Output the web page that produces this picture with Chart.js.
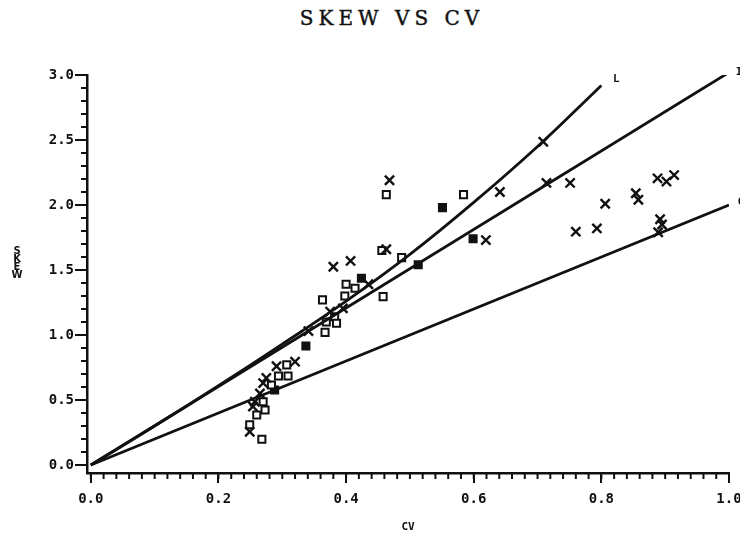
<!DOCTYPE html>
<html>
<head>
<meta charset="utf-8">
<script src="https://cdn.jsdelivr.net/npm/chart.js@4"></script>
<style>
    body { margin: 0; background: #fff; overflow: hidden; }
    #wrap { position: relative; width: 740px; height: 538px; overflow: hidden; }
    #title {
        position: absolute; left: 292px; top: 6px; width: 200px; text-align: center;
        font-family: "DejaVu Serif", serif; font-size: 20px; letter-spacing: 5px; color: #111;
        -webkit-text-stroke: 0.4px #111;
    }
    #ytitle {
        position: absolute; left: 11px; top: 247px; width: 12px; text-align: center;
        font-family: "DejaVu Sans", sans-serif; font-weight: bold; font-size: 10px;
        line-height: 8px; color: #111; will-change: transform; opacity: 0.99;
    }
    canvas { position: absolute; left: 0; top: 0; }
</style>
</head>
<body>
<div id="wrap">
    <div id="title">SKEW VS CV</div>
    <div id="ytitle">S<br>K<br>E<br>W</div>
    <canvas id="skewChart" width="750" height="538"></canvas>
</div>
<script>
// Tick labels
const xTickValues = [0, 0.2, 0.4, 0.6, 0.8, 1.0];
const yTickValues = [0, 0.5, 1.0, 1.5, 2.0, 2.5, 3.0];

// Theoretical curves
const lognormCv = [0, 0.1, 0.2, 0.3, 0.4, 0.5, 0.6, 0.7, 0.8];
const lognormSkew = [0, 0.30, 0.61, 0.93, 1.26, 1.62, 2.02, 2.45, 2.92];
const invGaussCv = [0, 1.0];
const invGaussSkew = [0, 3.02];
const gammaCv = [0, 1.0];
const gammaSkew = [0, 2.0];

// Sample points, crosses
const crossCv = [0.380, 0.407, 0.468, 0.463, 0.435, 0.395, 0.375, 0.341, 0.320, 0.291, 0.275, 0.270,
    0.265, 0.257, 0.254, 0.249, 0.641, 0.619, 0.709, 0.714, 0.751, 0.806, 0.760, 0.793, 0.854, 0.858,
    0.888, 0.902, 0.914, 0.892, 0.895, 0.889];
const crossSkew = [1.525, 1.57, 2.19, 1.66, 1.39, 1.205, 1.18, 1.03, 0.795, 0.76, 0.67, 0.63,
    0.55, 0.487, 0.45, 0.256, 2.10, 1.73, 2.487, 2.17, 2.17, 2.01, 1.795, 1.82, 2.09, 2.04,
    2.205, 2.18, 2.23, 1.89, 1.85, 1.79];

// Sample points, open squares
const squareCv = [0.463, 0.584, 0.456, 0.487, 0.400, 0.398, 0.414, 0.458, 0.382, 0.385, 0.363, 0.369,
    0.367, 0.307, 0.294, 0.309, 0.283, 0.270, 0.273, 0.260, 0.249, 0.268];
const squareSkew = [2.08, 2.08, 1.65, 1.595, 1.39, 1.30, 1.36, 1.295, 1.14, 1.09, 1.27, 1.10,
    1.02, 0.77, 0.685, 0.685, 0.615, 0.487, 0.423, 0.385, 0.31, 0.198];

// Sample points, filled squares
const filledCv = [0.551, 0.599, 0.513, 0.424, 0.337, 0.288];
const filledSkew = [1.98, 1.74, 1.54, 1.436, 0.915, 0.577];

// Minor tick positions
const xMinorStep = 0.02;
const yMinorStep = 0.1;

const curveLabels = [
    { text: 'L', cv: 0.8, skew: 2.92, dx: 15, dy: -6 },
    { text: 'I', cv: 1.0, skew: 3.02, dx: 10, dy: 0 },
    { text: 'G', cv: 1.0, skew: 2.0, dx: 12, dy: -3 }
];

const ink = '#111';
const toPoints = (xs, ys) => xs.map((x, i) => ({ x, y: ys[i] }));

const lineSet = (xs, ys, tension) => ({
    data: toPoints(xs, ys),
    showLine: true,
    borderColor: ink,
    borderWidth: 2.8,
    pointRadius: 0,
    tension: tension
});

const markerSet = (xs, ys, style, fill) => ({
    data: toPoints(xs, ys),
    pointStyle: style,
    pointRadius: style === 'crossRot' ? 6.5 : 5,
    pointBorderWidth: style === 'crossRot' ? 2.4 : 2,
    pointBorderColor: ink,
    pointBackgroundColor: fill
});

// Minor ticks and curve end labels
const plotDecor = {
    id: 'plotDecor',
    afterDraw(chart) {
        const ctx = chart.ctx;
        const xs = chart.scales.x;
        const ys = chart.scales.y;
        const area = chart.chartArea;
        ctx.save();
        ctx.strokeStyle = ink;
        ctx.lineWidth = 2;
        for (let i = 0; i <= 50; i++) {
            const px = xs.getPixelForValue(i * xMinorStep);
            ctx.beginPath();
            ctx.moveTo(px, area.bottom);
            ctx.lineTo(px, area.bottom + 6);
            ctx.stroke();
        }
        for (let j = 0; j <= 30; j++) {
            const py = ys.getPixelForValue(j * yMinorStep);
            ctx.beginPath();
            ctx.moveTo(area.left - 6, py);
            ctx.lineTo(area.left + 1, py);
            ctx.stroke();
        }

        ctx.fillStyle = ink;
        ctx.font = 'bold 11px "DejaVu Sans Mono"';
        ctx.textAlign = 'center';
        ctx.textBaseline = 'middle';
        curveLabels.forEach(l => {
            ctx.fillText(l.text, xs.getPixelForValue(l.cv) + l.dx, ys.getPixelForValue(l.skew) + l.dy);
        });
        ctx.restore();
    }
};

const tickFont = { family: '"DejaVu Sans Mono"', size: 14, weight: 'bold' };

new Chart(document.getElementById('skewChart'), {
    type: 'scatter',
    data: {
        datasets: [
            lineSet(lognormCv, lognormSkew, 0.4),
            lineSet(invGaussCv, invGaussSkew, 0),
            lineSet(gammaCv, gammaSkew, 0),
            markerSet(crossCv, crossSkew, 'crossRot', ink),
            markerSet(squareCv, squareSkew, 'rect', '#fff'),
            markerSet(filledCv, filledSkew, 'rect', ink)
        ]
    },
    options: {
        responsive: false,
        animation: false,
        layout: { padding: { top: 75, right: 21, left: 0, bottom: 0 } },
        plugins: {
            legend: { display: false },
            tooltip: { enabled: false }
        },
        scales: {
            x: {
                type: 'linear',
                min: -0.006,
                max: 1.0,
                afterBuildTicks: s => { s.ticks = xTickValues.map(v => ({ value: v })); },
                afterFit: s => { s.height = 65; },
                border: { display: true, color: ink, width: 2.5 },
                grid: { display: true, drawOnChartArea: false, color: ink, lineWidth: 2, tickLength: 10 },
                ticks: {
                    color: ink, font: tickFont, padding: 8, maxRotation: 0,
                    callback: v => v.toFixed(1)
                },
                title: {
                    display: true, text: 'CV', color: ink,
                    font: { family: '"DejaVu Sans Mono"', size: 11, weight: 'bold' },
                    padding: { top: 4, bottom: 4 }
                }
            },
            y: {
                type: 'linear',
                min: -0.0615,
                max: 3.0,
                afterBuildTicks: s => { s.ticks = yTickValues.map(v => ({ value: v })); },
                afterFit: s => { s.width = 87; },
                border: { display: true, color: ink, width: 2.5 },
                grid: { display: true, drawOnChartArea: false, color: ink, lineWidth: 2, tickLength: 12 },
                ticks: {
                    color: ink, font: tickFont, padding: 1,
                    callback: v => v.toFixed(1)
                }
            }
        }
    },
    plugins: [plotDecor]
});
</script>
</body>
</html>
